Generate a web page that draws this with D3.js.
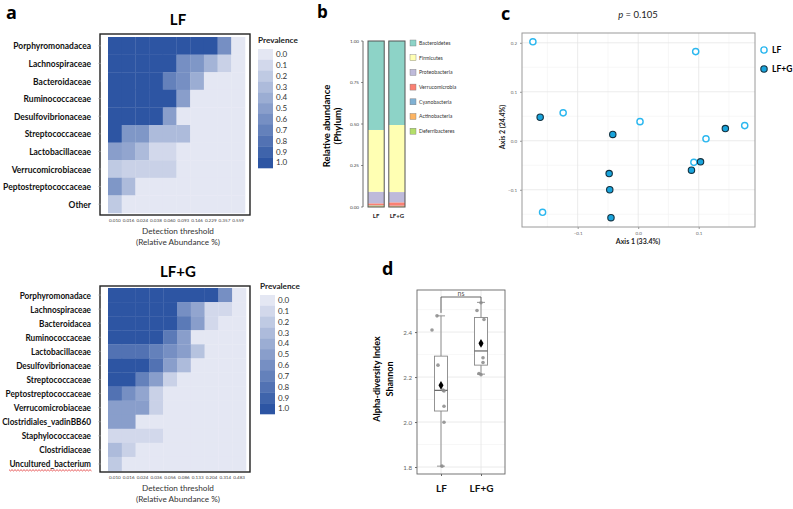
<!DOCTYPE html>
<html><head><meta charset="utf-8">
<script src="https://cdn.jsdelivr.net/npm/d3@7"></script>
<style>body{margin:0;background:#fff;} svg{display:block;font-family:Lato,"Open Sans",sans-serif;}</style>
</head><body><svg id="c" width="793" height="509"></svg>
<script>
// ---------- Panel a data ----------
const lfThresholds = ["0.010","0.016","0.024","0.038","0.060","0.093","0.146","0.229","0.357","0.559"];
const lfFamilies = ["Porphyromonadacea","Lachnospiraceae","Bacteroidaceae","Ruminococcaceae","Desulfovibrionaceae","Streptococcaceae","Lactobacillaceae","Verrucomicrobiaceae","Peptostreptococcaceae","Other"];
const lfPrevalence = [
  [1,1,1,1,1,1,1,1,0.6,0],
  [1,1,1,1,1,0.6,0.55,0.35,0.15,0],
  [1,1,1,1,0.7,0.6,0.4,0,0,0],
  [1,1,1,1,1,0.5,0,0,0,0],
  [1,1,1,1,0.5,0,0,0,0,0],
  [1,0.55,0.55,0.3,0.3,0.3,0,0,0,0],
  [0.5,0.45,0.3,0.1,0.1,0,0,0,0,0],
  [0.2,0.15,0.15,0.15,0.15,0,0,0,0,0],
  [0.55,0.3,0,0,0,0,0,0,0,0],
  [0.2,0,0,0,0,0,0,0,0,0]
];
const lfgThresholds = ["0.010","0.016","0.024","0.036","0.056","0.086","0.133","0.204","0.314","0.483"];
const lfgFamilies = ["Porphyromonadace","Lachnospiraceae","Bacteroidacea","Ruminococcaceae","Lactobacillaceae","Desulfovibrionaceae","Streptococcaceae","Peptostreptococcaceae","Verrucomicrobiaceae","Clostridiales_vadinBB60","Staphylococcaceae","Clostridiaceae","Uncultured_bacterium"];
const lfgPrevalence = [
  [1,1,1,1,1,1,1,1,0.6,0],
  [1,1,1,1,1,0.6,0.45,0.1,0.1,0],
  [1,1,1,1,1,0.75,0.5,0.1,0,0],
  [1,1,1,1,0.75,0.5,0,0,0,0],
  [0.8,0.8,0.8,0.7,0.6,0.5,0.25,0,0,0],
  [1,1,1,0.8,0.5,0.3,0,0,0,0],
  [1,1,0.7,0.5,0.15,0,0,0,0,0],
  [0.8,0.6,0.45,0.15,0,0,0,0,0,0],
  [0.5,0.5,0.5,0.15,0,0,0,0,0,0],
  [0.5,0.5,0,0,0,0,0,0,0,0],
  [0.1,0.1,0.1,0.1,0,0,0,0,0,0],
  [0.3,0.15,0,0,0,0,0,0,0,0],
  [0.2,0,0,0,0,0,0,0,0,0]
];
const prevalenceTicks = ["0.0","0.1","0.2","0.3","0.4","0.5","0.6","0.7","0.8","0.9","1.0"];

// ---------- Panel b data ----------
const phyla = ["Bacteroidetes","Firmicutes","Proteobacteria","Verrucomicrobia","Cyanobacteria","Actinobacteria","Deferribacteres"];
const phylumColors = ["#8dd3c7","#ffffb3","#bebada","#fb8072","#80b1d3","#fdb462","#b3de69"];
const groupsB = ["LF","LF+G"];
const abundLF  = [0.536,0.372,0.070,0.010,0.002,0.006,0.004];
const abundLFG = [0.506,0.404,0.062,0.020,0.002,0.004,0.002];
const abundTicks = [0,0.25,0.5,0.75,1];

// ---------- Panel c data ----------
const pcoaLFx  = [-0.174,0.095,-0.124,0.003,0.176,0.112,0.092,-0.158];
const pcoaLFy  = [0.202,0.182,0.057,0.039,0.031,0.004,-0.044,-0.146];
const pcoaLFGx = [-0.162,-0.042,0.144,0.103,0.088,-0.048,-0.047,-0.045];
const pcoaLFGy = [0.048,0.013,0.025,-0.043,-0.060,-0.067,-0.100,-0.157];
const pcoaTicks = [-0.1,0,0.1,0.2];

// ---------- Panel d data ----------
const groupsD = ["LF","LF+G"];
const shannonLF  = [2.472,2.409,2.253,2.142,2.138,2.070,1.999,1.804];
const shannonLFG = [2.530,2.496,2.456,2.345,2.286,2.265,2.216,2.210];
const boxLF  = {lo:1.804, q1:2.049, med:2.141, q3:2.293, hi:2.472, mean:2.163};
const boxLFG = {lo:2.213, q1:2.253, med:2.316, q3:2.465, hi:2.532, mean:2.350};
const shannonTicks = [1.8,2.0,2.2,2.4];
const shannonMinor = [1.9,2.1,2.3,2.5];

const svg = d3.select("#c");
const colorPrev = d3.scaleLinear().domain([0,1]).range(["#e4e7f3","#2d55a3"]).interpolate(d3.interpolateRgb);

function panelLetter(t,x,y,fs){
  svg.append("text").attr("x",x).attr("y",y).attr("font-size",fs||18).attr("font-weight","bold")
    .attr("font-family","'Open Sans',Arial,sans-serif").text(t);
}

// ===== Panel a =====
function heatmap(title, thresholds, fams, prev, box, cells, titleY, legendX, legendY, labelWidth){
  const g = svg.append("g");
  g.append("text").attr("x",178).attr("y",titleY).attr("text-anchor","middle")
    .attr("font-size",15).attr("font-weight","bold").text(title);
  const x = d3.scaleBand().domain(thresholds).range([cells.x0,cells.x1]);
  const y = d3.scaleBand().domain(fams).range([cells.y0,cells.y1]);
  prev.forEach((row,i)=>{
    g.selectAll(null).data(row).enter().append("rect")
      .attr("x",(d,j)=>x(thresholds[j])).attr("y",y(fams[i]))
      .attr("width",x.bandwidth()+0.3).attr("height",y.bandwidth()+0.3)
      .attr("fill",d=>colorPrev(d));
  });
  g.append("rect").attr("x",box.x0).attr("y",box.y0).attr("width",box.x1-box.x0).attr("height",box.y1-box.y0)
    .attr("fill","none").attr("stroke","#222").attr("stroke-width",1.4);
  fams.forEach(f=>{
    g.append("line").attr("x1",box.x0-2).attr("x2",box.x0+1).attr("y1",y(f)+y.bandwidth()/2).attr("y2",y(f)+y.bandwidth()/2).attr("stroke","#aaa").attr("stroke-width",0.5);
  });
  const labels = g.selectAll(null).data(fams).enter().append("text")
    .attr("text-anchor","end").attr("dy","0.35em")
    .attr("font-size",10).attr("font-weight","bold").attr("fill","#111").text(d=>d);
  let maxW = 0;
  labels.each(function(){ maxW = Math.max(maxW, this.getComputedTextLength()); });
  const sx = Math.min(1, labelWidth / maxW);
  labels.attr("transform", d=>`translate(91,${y(d)+y.bandwidth()/2}) scale(${sx},1)`);
  thresholds.forEach(t=>{
    g.append("text").attr("x",x(t)+x.bandwidth()/2).attr("y",box.y1+7).attr("text-anchor","middle")
      .attr("font-size",4.6).attr("fill","#444").text(t);
  });
  g.append("text").attr("x",178).attr("y",box.y1+19).attr("text-anchor","middle").attr("font-size",8.2).attr("fill","#333").text("Detection threshold");
  g.append("text").attr("x",178).attr("y",box.y1+30).attr("text-anchor","middle").attr("font-size",8.2).attr("fill","#333").text("(Relative Abundance %)");
  g.append("text").attr("x",legendX).attr("y",legendY).attr("font-size",8.2).attr("font-weight","bold").attr("fill","#222").text("Prevalence");
  const ly = d3.scaleBand().domain(prevalenceTicks).range([legendY+6,legendY+125]);
  g.selectAll(null).data(prevalenceTicks).enter().append("rect")
    .attr("x",legendX).attr("y",d=>ly(d)).attr("width",15).attr("height",ly.bandwidth()+0.3)
    .attr("fill",d=>colorPrev(+d));
  g.selectAll(null).data(prevalenceTicks).enter().append("text")
    .attr("x",legendX+18).attr("y",d=>ly(d)+ly.bandwidth()/2).attr("dy","0.35em")
    .attr("font-size",8).attr("fill","#333").text(d=>d);
  return {x,y,sx};
}
panelLetter("a",6,19);
heatmap("LF", lfThresholds, lfFamilies, lfPrevalence, {x0:100,y0:34,x1:250,y1:215}, {x0:108,x1:245,y0:37,y1:213}, 25, 258, 43, 88);
const hm2 = heatmap("LF+G", lfgThresholds, lfgFamilies, lfgPrevalence, {x0:100,y0:286,x1:250,y1:472}, {x0:108,x1:246,y0:288,y1:471}, 277, 260, 289, 89);
{
  const yy = hm2.y(lfgFamilies[lfgFamilies.length-1]) + hm2.y.bandwidth()/2 + 6;
  const pts = d3.range(9, 92, 1.5).map((xx,i)=>[xx, yy + (i%2?1:-0.3)]);
  svg.append("path").attr("d",d3.line()(pts)).attr("fill","none").attr("stroke","#e03030").attr("stroke-width",0.8);
}

// ===== Panel b =====
panelLetter("b",317,18,17);
{
  const g = svg.append("g");
  const y = d3.scaleLinear().domain([0,1]).range([207,41]);
  const x = d3.scaleBand().domain(groupsB).range([368,405]).paddingInner(0.22);
  g.append("line").attr("x1",363).attr("x2",363).attr("y1",41).attr("y2",207).attr("stroke","#444").attr("stroke-width",0.8);
  abundTicks.forEach(t=>{
    g.append("line").attr("x1",361).attr("x2",363).attr("y1",y(t)).attr("y2",y(t)).attr("stroke","#444").attr("stroke-width",0.6);
    g.append("text").attr("x",359).attr("y",y(t)).attr("dy","0.35em").attr("text-anchor","end").attr("font-size",4.6).attr("fill","#444").text(t.toFixed(2));
  });
  const data = [abundLF, abundLFG];
  groupsB.forEach((grp,gi)=>{
    let cum = 0;
    const vals = data[gi];
    for(let k=phyla.length-1;k>=0;k--){
      const v = vals[k];
      g.append("rect").attr("x",x(grp)).attr("width",x.bandwidth())
        .attr("y",y(cum+v)).attr("height",y(cum)-y(cum+v)).attr("fill",phylumColors[k]);
      cum += v;
    }
    g.append("rect").attr("x",x(grp)).attr("width",x.bandwidth()).attr("y",y(1)).attr("height",y(0)-y(1))
      .attr("fill","none").attr("stroke","#555").attr("stroke-width",1);
    g.append("text").attr("x",x(grp)+x.bandwidth()/2).attr("y",218).attr("text-anchor","middle")
      .attr("font-size",6).attr("font-weight","bold").attr("fill","#222").text(grp);
  });
  g.append("text").attr("transform","translate(330,126) rotate(-90)").attr("text-anchor","middle")
    .attr("font-size",9.5).attr("font-weight","bold").text("Relative abundance");
  g.append("text").attr("transform","translate(341,126) rotate(-90)").attr("text-anchor","middle")
    .attr("font-size",9.5).attr("font-weight","bold").text("(Phylum)");
  phyla.forEach((p,i)=>{
    const yy = 43 + i*14.7;
    g.append("rect").attr("x",410).attr("y",yy-3).attr("width",6).attr("height",6).attr("fill",phylumColors[i]).attr("stroke","#777").attr("stroke-width",0.4);
    g.append("text").attr("x",419).attr("y",yy).attr("dy","0.35em").attr("font-size",5.2).attr("fill","#333").text(p);
  });
}

// ===== Panel c =====
panelLetter("c",501,20);
{
  const g = svg.append("g");
  const x = d3.scaleLinear().domain([-0.192,0.193]).range([522,755]);
  const y = d3.scaleLinear().domain([-0.176,0.22]).range([227,33]);
  const minorX = [-0.15,-0.05,0.05,0.15], minorY=[-0.15,-0.05,0.05,0.15];
  minorX.forEach(v=>g.append("line").attr("x1",x(v)).attr("x2",x(v)).attr("y1",33).attr("y2",227).attr("stroke","#f2f2f2").attr("stroke-width",0.6));
  minorY.forEach(v=>g.append("line").attr("y1",y(v)).attr("y2",y(v)).attr("x1",522).attr("x2",755).attr("stroke","#f2f2f2").attr("stroke-width",0.6));
  [-0.1,0,0.1].forEach(v=>g.append("line").attr("x1",x(v)).attr("x2",x(v)).attr("y1",33).attr("y2",227).attr("stroke","#e6e6e6").attr("stroke-width",0.8));
  pcoaTicks.forEach(v=>g.append("line").attr("y1",y(v)).attr("y2",y(v)).attr("x1",522).attr("x2",755).attr("stroke","#e6e6e6").attr("stroke-width",0.8));
  g.append("rect").attr("x",522).attr("y",33).attr("width",233).attr("height",194).attr("fill","none").attr("stroke","#9a9a9a").attr("stroke-width",1);
  const xa = g.append("g").attr("transform","translate(0,227)").call(d3.axisBottom(x).tickValues([-0.1,0,0.1]).tickSize(2).tickFormat(d3.format(".1f")));
  const ya = g.append("g").attr("transform","translate(522,0)").call(d3.axisLeft(y).tickValues(pcoaTicks).tickSize(2).tickFormat(d3.format(".1f")));
  [xa,ya].forEach(a=>{a.select(".domain").remove(); a.selectAll("line").attr("stroke","#999"); a.selectAll("text").attr("font-size",4.5).attr("fill","#666").attr("font-family","Lato,sans-serif");});
  g.append("text").attr("x",638).attr("y",18).attr("text-anchor","middle").attr("font-size",9.5).attr("fill","#222")
    .html('<tspan font-style="italic">p</tspan> = 0.105');
  g.append("text").attr("x",638).attr("y",244).attr("text-anchor","middle").attr("font-size",7).attr("font-weight","bold").attr("fill","#222").text("Axis 1 (33.4%)");
  g.append("text").attr("transform","translate(505,127) rotate(-90)").attr("text-anchor","middle").attr("font-size",7).attr("font-weight","bold").attr("fill","#222").text("Axis 2 (24.4%)");
  pcoaLFx.forEach((v,i)=>g.append("circle").attr("cx",x(v)).attr("cy",y(pcoaLFy[i])).attr("r",3.1).attr("fill","#fff").attr("stroke","#2bb7ef").attr("stroke-width",1.4));
  pcoaLFGx.forEach((v,i)=>g.append("circle").attr("cx",x(v)).attr("cy",y(pcoaLFGy[i])).attr("r",3.2).attr("fill","#19a4dc").attr("stroke","#12303f").attr("stroke-width",1.1));
  g.append("circle").attr("cx",764).attr("cy",50).attr("r",3.1).attr("fill","#fff").attr("stroke","#2bb7ef").attr("stroke-width",1.4);
  g.append("circle").attr("cx",764).attr("cy",69).attr("r",3.2).attr("fill","#19a4dc").attr("stroke","#12303f").attr("stroke-width",1.1);
  g.append("text").attr("x",772).attr("y",50).attr("dy","0.35em").attr("font-size",8.5).attr("font-weight","bold").text("LF");
  g.append("text").attr("x",772).attr("y",69).attr("dy","0.35em").attr("font-size",8.5).attr("font-weight","bold").text("LF+G");
}

// ===== Panel d =====
panelLetter("d",382,275);
{
  const g = svg.append("g");
  const x = d3.scalePoint().domain(groupsD).range([417,505]).padding(0.6);
  const y = d3.scaleLinear().domain([1.769,2.587]).range([474,290]);
  shannonMinor.forEach(v=>g.append("line").attr("x1",417).attr("x2",505).attr("y1",y(v)).attr("y2",y(v)).attr("stroke","#f2f2f2").attr("stroke-width",0.6));
  shannonTicks.forEach(v=>g.append("line").attr("x1",417).attr("x2",505).attr("y1",y(v)).attr("y2",y(v)).attr("stroke","#e4e4e4").attr("stroke-width",0.8));
  groupsD.forEach(gr=>g.append("line").attr("x1",x(gr)).attr("x2",x(gr)).attr("y1",290).attr("y2",474).attr("stroke","#e4e4e4").attr("stroke-width",0.8));
  g.append("rect").attr("x",417).attr("y",290).attr("width",88).attr("height",184).attr("fill","none").attr("stroke","#666").attr("stroke-width",0.9);
  const ya = g.append("g").attr("transform","translate(417,0)").call(d3.axisLeft(y).tickValues(shannonTicks).tickSize(2).tickFormat(d3.format(".1f")));
  ya.select(".domain").remove(); ya.selectAll("line").attr("stroke","#666"); ya.selectAll("text").attr("font-size",6.2).attr("fill","#666").attr("font-family","Lato,sans-serif");
  const xa = g.append("g").attr("transform","translate(0,474)").call(d3.axisBottom(x).tickSize(2));
  xa.select(".domain").remove(); xa.selectAll("line").attr("stroke","#666");
  xa.selectAll("text").attr("font-size",10).attr("font-weight","bold").attr("fill","#111").attr("dy","1.3em").attr("font-family","Lato,sans-serif");
  const stats = [boxLF, boxLFG], pts=[shannonLF, shannonLFG];
  const jit = [[-4,-9,-3,2,3,3,3,1],[0,-4,3,0,2,2,-2,0]];
  groupsD.forEach((gr,i)=>{
    const s = stats[i], cx = x(gr), w = 13;
    g.append("line").attr("x1",cx).attr("x2",cx).attr("y1",y(s.hi)).attr("y2",y(s.q3)).attr("stroke","#888").attr("stroke-width",0.9);
    g.append("line").attr("x1",cx).attr("x2",cx).attr("y1",y(s.q1)).attr("y2",y(s.lo)).attr("stroke","#888").attr("stroke-width",0.9);
    [s.hi,s.lo].forEach(v=>g.append("line").attr("x1",cx-4).attr("x2",cx+4).attr("y1",y(v)).attr("y2",y(v)).attr("stroke","#888").attr("stroke-width",0.9));
    g.append("rect").attr("x",cx-w/2).attr("y",y(s.q3)).attr("width",w).attr("height",y(s.q1)-y(s.q3)).attr("fill","#fff").attr("stroke","#888").attr("stroke-width",0.9);
    g.append("line").attr("x1",cx-w/2).attr("x2",cx+w/2).attr("y1",y(s.med)).attr("y2",y(s.med)).attr("stroke","#555").attr("stroke-width",1.1);
    pts[i].forEach((v,k)=>g.append("circle").attr("cx",cx+jit[i][k]).attr("cy",y(v)).attr("r",1.8).attr("fill","#8a8a8a").attr("opacity",0.85));
    g.append("path").attr("d",d3.symbol(d3.symbolDiamond,22)()).attr("transform",`translate(${cx},${y(s.mean)})`).attr("fill","#000");
  });
  const by = 297;
  g.append("path").attr("d",`M${x("LF")},${y(boxLF.hi)-3}V${by}H${x("LF+G")}V${y(boxLFG.hi)-1}`).attr("fill","none").attr("stroke","#555").attr("stroke-width",0.9);
  g.append("text").attr("x",(x("LF")+x("LF+G"))/2).attr("y",by-1.5).attr("text-anchor","middle").attr("font-size",7).attr("fill","#555").text("ns");
  g.append("text").attr("transform","translate(380,379) rotate(-90)").attr("text-anchor","middle").attr("font-size",9).attr("font-weight","bold").text("Alpha-diversity Index");
  g.append("text").attr("transform","translate(393,379) rotate(-90)").attr("text-anchor","middle").attr("font-size",9).attr("font-weight","bold").text("Shannon");
}
</script></body></html>
